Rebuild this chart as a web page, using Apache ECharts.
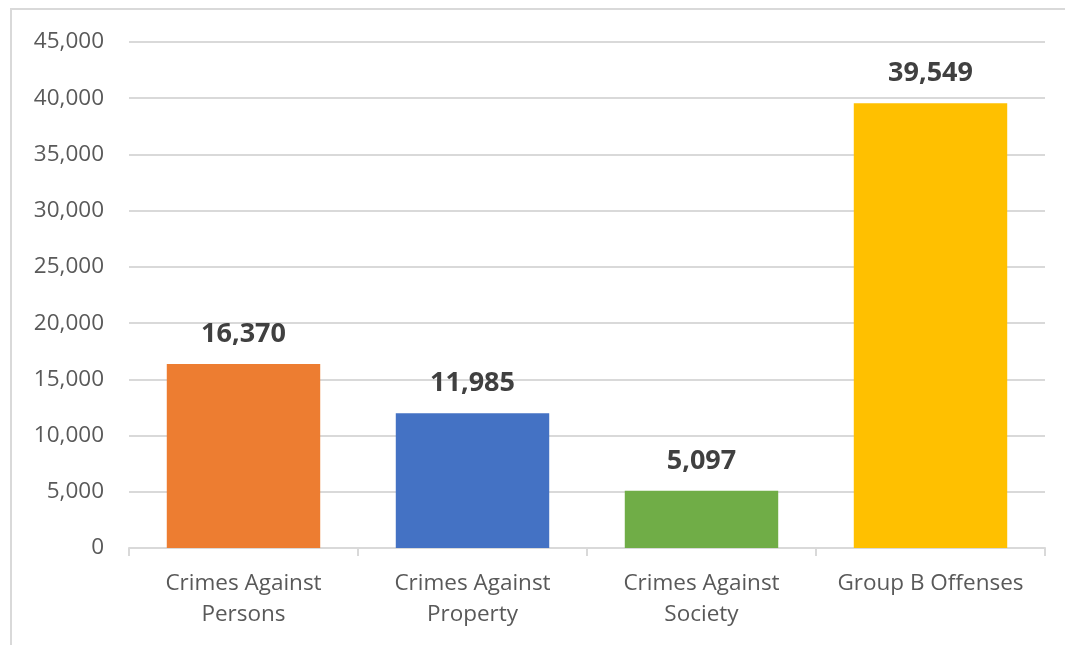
<!DOCTYPE html>
<html>
<head>
<meta charset="utf-8">
<script src="https://cdn.jsdelivr.net/npm/echarts@6/dist/echarts.min.js"></script>
<style>
  html, body { margin: 0; padding: 0; background: #fff; }
  #frame {
    position: absolute; left: 10px; top: 8px;
    width: 1100px; height: 700px;
    border: 2px solid #d9d9d9; box-sizing: border-box;
  }
  #main { position: absolute; left: 0; top: 0; width: 1065px; height: 645px; }
</style>
</head>
<body>
<div id="frame"></div>
<div id="main"></div>
<script>
// categories and values
const categories = ['Crimes Against\nPersons', 'Crimes Against\nProperty', 'Crimes Against\nSociety', 'Group B Offenses']
const counts = [16370, 11985, 5097, 39549]
const barColors = ['#ED7D31', '#4472C4', '#70AD47', '#FFC000']

const chart = echarts.init(document.getElementById('main'))

const option = {
  animation: false,
  grid: { left: 129, right: 20, top: 42, bottom: 97 },
  xAxis: {
    type: 'category',
    data: categories,
    axisLine: { lineStyle: { color: '#d9d9d9', width: 2 } },
    axisTick: { show: true, length: 8, lineStyle: { color: '#d9d9d9', width: 2 } },
    axisLabel: {
      color: '#595959',
      fontSize: 22.5,
      fontFamily: 'Open Sans',
      lineHeight: 31,
      margin: 20,
      interval: 0
    }
  },
  yAxis: {
    type: 'value',
    min: 0,
    max: 45000,
    interval: 5000,
    axisLine: { show: false },
    axisTick: { show: false },
    splitLine: { lineStyle: { color: '#d9d9d9', width: 2 } },
    axisLabel: {
      color: '#595959',
      fontSize: 22.5,
      fontFamily: 'Open Sans',
      margin: 25,
      formatter: v => v.toLocaleString('en-US')
    }
  },
  series: [
    {
      type: 'bar',
      barWidth: '67%',
      data: counts.map((v, i) => ({ value: v, itemStyle: { color: barColors[i] } })),
      label: {
        show: true,
        position: 'top',
        distance: 16,
        color: '#404040',
        fontSize: 27,
        fontWeight: 'bold',
        fontFamily: 'Open Sans',
        formatter: p => p.value.toLocaleString('en-US')
      }
    }
  ]
}

chart.setOption(option)
</script>
</body>
</html>
